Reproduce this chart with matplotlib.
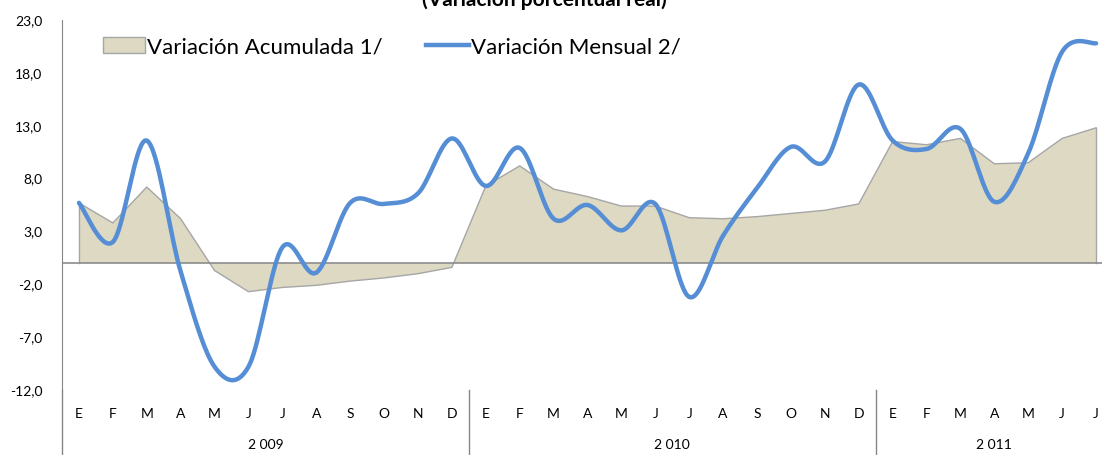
import numpy as np
import matplotlib.pyplot as plt
from matplotlib.patches import Patch
from matplotlib.lines import Line2D

plt.rcParams['font.family'] = ['Lato', 'DejaVu Sans']

# Data (2009-01 .. 2011-07)
months = ["E", "F", "M", "A", "M", "J", "J", "A", "S", "O", "N", "D",
          "E", "F", "M", "A", "M", "J", "J", "A", "S", "O", "N", "D",
          "E", "F", "M", "A", "M", "J", "J"]
years = ["2 009", "2 010", "2 011"]
year_sizes = [12, 12, 7]

acumulada = [5.7, 3.8, 7.2, 4.2, -0.7, -2.7, -2.3, -2.1, -1.7, -1.4, -1.0, -0.4,
             7.3, 9.2, 7.0, 6.3, 5.4, 5.4, 4.3, 4.2, 4.4, 4.7, 5.0, 5.6,
             11.5, 11.2, 11.8, 9.4, 9.5, 11.8, 12.8]
mensual = [5.7, 2.0, 11.6, -0.8, -9.8, -9.8, 1.5, -0.9, 5.7, 5.6, 6.6, 11.8,
           7.3, 10.9, 4.2, 5.5, 3.1, 5.6, -3.2, 2.6, 7.1, 11.0, 9.6, 16.9,
           11.6, 10.8, 12.7, 5.8, 10.4, 20.0, 20.8]


def smooth(x, y, n=20):
    # Excel-style smoothed line: cubic Bezier segments, control points from neighbours / 6
    x = np.asarray(x, float)
    y = np.asarray(y, float)
    px = np.concatenate([[x[0]], x, [x[-1]]])
    py = np.concatenate([[y[0]], y, [y[-1]]])
    t = np.linspace(0, 1, n)[:, None]
    xs, ys = [], []
    for i in range(len(x) - 1):
        p0 = np.array([px[i + 1], py[i + 1]])
        p3 = np.array([px[i + 2], py[i + 2]])
        c1 = p0 + (np.array([px[i + 2], py[i + 2]]) - np.array([px[i], py[i]])) / 6
        c2 = p3 - (np.array([px[i + 3], py[i + 3]]) - np.array([px[i + 1], py[i + 1]])) / 6
        pts = ((1 - t) ** 3) * p0 + 3 * ((1 - t) ** 2) * t * c1 + 3 * (1 - t) * t ** 2 * c2 + t ** 3 * p3
        xs.append(pts[:, 0])
        ys.append(pts[:, 1])
    return np.concatenate(xs), np.concatenate(ys)


fig = plt.figure(figsize=(11.02, 4.55), dpi=100)
ax = fig.add_axes([62 / 1102, 65 / 455, 1051 / 1102, 370 / 455])

x = np.arange(len(months))
fill_c = '#DDD9C3'
edge_c = '#A6A6A6'
blue = '#558ED5'

ax.fill_between(x, 0, acumulada, facecolor=fill_c, edgecolor='none', zorder=1)
ax.plot(x, acumulada, color=edge_c, lw=1, zorder=2)
ax.plot([x[0], x[0]], [0, acumulada[0]], color=edge_c, lw=1, zorder=2)
ax.plot([x[-1], x[-1]], [0, acumulada[-1]], color=edge_c, lw=1, zorder=2)
ax.axhline(0, color='#8C8C8C', lw=1.2, zorder=2)

sx, sy = smooth(x, mensual)
ax.plot(sx, sy, color=blue, lw=3.2, solid_capstyle='round', zorder=3)

ax.set_xlim(-0.5, len(months) - 0.5)
ax.set_ylim(-12, 23)
ax.set_yticks(np.arange(-12, 24, 5))
ax.set_yticklabels([f"{v:.1f}".replace('.', ',') for v in np.arange(-12, 24, 5)], fontsize=10)
ax.tick_params(axis='y', length=0, pad=14)
ax.set_xticks(x)
ax.set_xticklabels(months, fontsize=10)
ax.tick_params(axis='x', length=0, pad=13)

for s in ['top', 'right', 'bottom']:
    ax.spines[s].set_visible(False)
ax.spines['left'].set_color('#868686')

# year group separators and labels
bounds = np.cumsum([0] + year_sizes) - 0.5
for b in bounds[:-1]:
    ax.plot([b, b], [0, -0.18], color='#868686', lw=1, transform=ax.get_xaxis_transform(), clip_on=False)
for i, yr in enumerate(years):
    ax.text((bounds[i] + bounds[i + 1]) / 2, -0.148, yr, ha='center', va='center', fontsize=10,
            transform=ax.get_xaxis_transform())

handles = [Patch(facecolor=fill_c, edgecolor=edge_c, label='Variación Acumulada 1/'),
           Line2D([], [], color=blue, lw=3.2, label='Variación Mensual 2/')]
ax.legend(handles=handles, loc='center left', bbox_to_anchor=(0.039, 1 - 27 / 370), ncol=2, frameon=False,
          fontsize=16, handlelength=1.9, handleheight=0.75, handletextpad=0.1, columnspacing=1.95,
          borderaxespad=0, borderpad=0)

fig.text(0.494, 1.0, '(Variación porcentual real)', ha='center', va='center', fontsize=15, fontweight='bold')

fig.savefig('out.png', dpi=100)
